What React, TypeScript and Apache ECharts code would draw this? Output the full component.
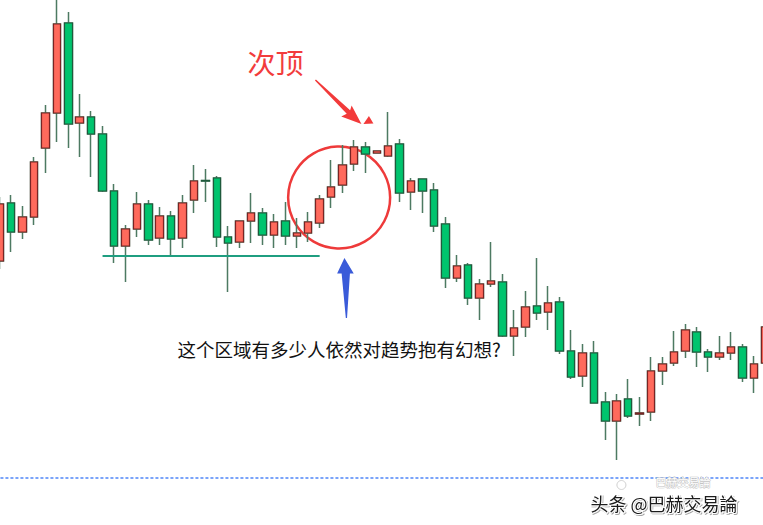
import React, { useEffect, useRef } from "react";
import * as echarts from "echarts";

// candle index labels
const categories: string[] = Array.from({ length: 68 }, (_, i) => `K${i + 1}`);

// prices (arbitrary price units)
const openVals = [264, 322, 293, 308, 377, 412, 502, 402, 408, 391, 334, 279, 296, 321, 287, 309, 287, 325, 344.5, 347, 288, 283, 304, 312, 290, 304, 289, 292, 302, 328, 340, 361, 378, 372, 369, 381, 333, 346, 335, 301, 247, 260, 227, 241, 243, 189, 198, 219, 213, 223, 174, 149, 172, 123, 104, 126, 111, 113, 154, 162, 174, 193, 173, 168, 172, 178, 147, 162];
const closeVals = [321, 293, 308, 363, 412, 501, 401, 408, 391, 334, 279, 296, 321, 285, 309, 286, 322, 344, 344, 288, 282, 304, 312, 290, 303, 289, 292, 303, 326, 338, 360, 378, 371, 374, 379, 332, 344, 334, 299, 247, 259, 227, 241, 244, 189, 197, 218, 212, 222, 174, 148, 172, 122, 104, 124, 109, 112, 154, 161, 173, 195, 173, 168, 172, 178, 147, 161, 198];
const lowVals = [256, 273, 286, 300, 352, 383, 377, 368, 348, 333, 262, 243, 288, 280, 280, 269, 277, 312, 323, 278, 233, 277, 282, 280, 277, 280, 277, 283, 297, 317, 332, 354, 352, 372, 368, 323, 315, 312, 293, 237, 243, 220, 205, 238, 188, 169, 188, 205, 195, 171, 146, 138, 122, 85, 65, 107, 99, 104, 140, 159, 167, 158, 153, 165, 165, 143, 132, 160];
const highVals = [328, 330, 319, 368, 420, 530, 513, 431, 414, 399, 341, 300, 333, 325, 318, 314, 330, 360, 356, 349, 299, 304, 332, 317, 311, 323, 307, 313, 330, 365, 380, 385, 383, 374, 413, 386, 347, 346, 342, 308, 270, 262, 246, 283, 251, 215, 234, 267, 239, 228, 195, 181, 184, 133, 131, 146, 128, 168, 168, 194, 201, 198, 176, 189, 193, 181, 169, 200];

// support line: from candle 10 to candle 29 at this price
const supportFrom = 9;
const supportTo = 28;
const supportPrice = 269.5;

const titleText = "次顶";
const questionText = "这个区域有多少人依然对趋势抱有幻想?";
const watermarkText = "头条 @巴赫交易論";
const watermarkGhost = "巴赫交易論";

const CJK = '"Noto Sans CJK SC", "Noto Sans", sans-serif';

// the plot is wider than the window: first and last candles are cut off
const OFFSET = 6.43;
const PLOT_W = 776.56;

export default function App() {
  const ref = useRef<HTMLDivElement>(null);
  useEffect(() => {
    if (!ref.current) return;
    const chart = echarts.init(ref.current, undefined, { renderer: "svg" });
    const full = categories.map((_, i) => [openVals[i], closeVals[i], lowVals[i], highVals[i]]);
    const bodies = categories.map((_, i) => [
      openVals[i],
      closeVals[i],
      Math.min(openVals[i], closeVals[i]),
      Math.max(openVals[i], closeVals[i]),
    ]);
    chart.setOption({
      animation: false,
      backgroundColor: "#ffffff",
      grid: { left: 0, right: 0, top: 0, bottom: 0, containLabel: false },
      xAxis: {
        type: "category",
        data: categories,
        show: false,
        boundaryGap: true,
      },
      yAxis: { type: "value", min: 0, max: 525, show: false, splitLine: { show: false } },
      series: [
        {
          type: "candlestick",
          data: full,
          barWidth: 8,
          clip: true,
          itemStyle: {
            color: "#4d7a62",
            color0: "#4d7a62",
            borderColor: "#4d7a62",
            borderColor0: "#4d7a62",
            borderWidth: 1.5,
          },
          z: 2,
        },
        {
          type: "candlestick",
          data: bodies,
          barWidth: 8,
          clip: true,
          itemStyle: {
            color: "#ff6a5c",
            color0: "#00c46e",
            borderColor: "#7a2424",
            borderColor0: "#1f5a3c",
            borderWidth: 1.2,
          },
          z: 3,
          markLine: {
            symbol: "none",
            silent: true,
            label: { show: false },
            lineStyle: { color: "#1f9e80", width: 2, type: "solid" },
            data: [
              [
                { coord: [categories[supportFrom], supportPrice] },
                { coord: [categories[supportTo], supportPrice] },
              ],
            ],
          },
        },
      ],
      graphic: [
        {
          type: "group",
          x: OFFSET,
          y: 0,
          z: 10,
          children: [
            {
              type: "line",
              shape: { x1: 0, y1: 478, x2: 763, y2: 478 },
              style: { stroke: "#4f86f7", lineWidth: 1.5, lineDash: [3, 2] },
            },
            {
              type: "circle",
              shape: { cx: 338.7, cy: 197.5, r: 51 },
              style: { fill: "none", stroke: "#ee3a3a", lineWidth: 2.5 },
            },
            {
              type: "polygon",
              shape: {
                points: [
                  [314.5, 80.5],
                  [315.5, 79.5],
                  [349.7, 110.2],
                  [351.2, 105.6],
                  [361, 124],
                  [340.8, 116.4],
                  [346.3, 113.8],
                ],
              },
              style: { fill: "#f23a3a" },
            },
            {
              type: "polygon",
              shape: { points: [[363, 124], [373, 123.5], [368.5, 116]] },
              style: { fill: "#f23a3a" },
            },
            {
              type: "polygon",
              shape: {
                points: [
                  [344, 258],
                  [353.3, 273.5],
                  [349.5, 273.5],
                  [346.6, 318],
                  [345.4, 318],
                  [341.2, 273.5],
                  [336.7, 273.5],
                ],
              },
              style: { fill: "#3a5bd9" },
            },
            {
              type: "text",
              x: 275,
              y: 62,
              style: {
                text: titleText,
                fill: "#f23c3c",
                font: `28px ${CJK}`,
                align: "center",
                verticalAlign: "middle",
              },
            },
            {
              type: "text",
              x: 177,
              y: 349,
              style: {
                text: questionText,
                fill: "#111111",
                font: `18.5px ${CJK}`,
                align: "left",
                verticalAlign: "middle",
              },
            },
            {
              type: "text",
              x: 655,
              y: 482,
              style: {
                text: watermarkGhost,
                fill: "#ffffff",
                stroke: "#c4c4c4",
                lineWidth: 1,
                font: `11px ${CJK}`,
                align: "left",
                verticalAlign: "middle",
              },
            },
            {
              type: "circle",
              shape: { cx: 621, cy: 485, r: 4.5 },
              style: { fill: "none", stroke: "#d0d0d0", lineWidth: 1 },
            },
            {
              type: "text",
              x: 590,
              y: 503,
              style: {
                text: watermarkText,
                fill: "#1a1a1a",
                stroke: "#ffffff",
                lineWidth: 2,
                font: `18px ${CJK}`,
                align: "left",
                verticalAlign: "middle",
                textShadowColor: "rgba(0,0,0,0.35)",
                textShadowBlur: 1,
                textShadowOffsetX: 1,
                textShadowOffsetY: 1,
              },
            },
          ],
        },
      ],
    });
    return () => chart.dispose();
  }, []);
  return (
    <div
      style={{
        position: "absolute",
        left: 0,
        top: 0,
        width: 763,
        height: 525,
        overflow: "hidden",
        background: "#ffffff",
      }}
    >
      <div
        ref={ref}
        style={{ position: "absolute", left: -OFFSET, top: 0, width: PLOT_W, height: 525 }}
      />
    </div>
  );
}
